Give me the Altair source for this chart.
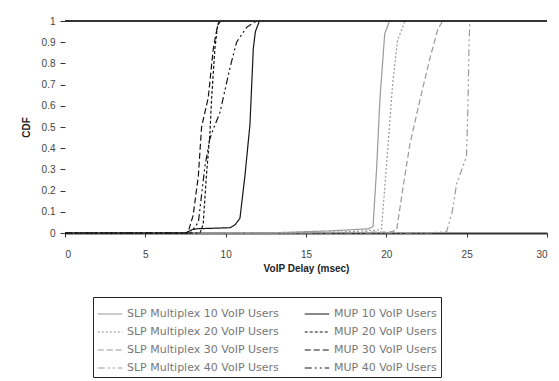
import altair as alt
import pandas as pd

# ---- data ----
# legend fills column by column: SLP series on the left, MUP on the right
series_order = [
    "SLP Multiplex 10 VoIP Users", "SLP Multiplex 20 VoIP Users",
    "SLP Multiplex 30 VoIP Users", "SLP Multiplex 40 VoIP Users",
    "MUP 10 VoIP Users", "MUP 20 VoIP Users",
    "MUP 30 VoIP Users", "MUP 40 VoIP Users",
]

slp10_x = [0, 12.5, 16.5, 18.9, 19.17, 19.4, 19.6, 19.9, 20.2, 30]
slp10_y = [0, 0, 0.01, 0.02, 0.03, 0.31, 0.63, 0.94, 1, 1]

slp20_x = [0, 13.0, 17.5, 19.6, 19.7, 20.0, 20.4, 20.7, 21.16, 30]
slp20_y = [0, 0, 0.005, 0.015, 0.02, 0.31, 0.71, 0.91, 1, 1]

slp30_x = [0, 14.0, 20.3, 20.64, 21.05, 21.47, 22.1, 22.7, 23.2, 23.5, 30]
slp30_y = [0, 0, 0.005, 0.014, 0.22, 0.42, 0.63, 0.82, 0.96, 1, 1]

slp40_x = [0, 22.5, 23.75, 24.1, 24.37, 24.99, 25.08, 25.15, 25.2, 30]
slp40_y = [0, 0, 0.006, 0.1, 0.23, 0.36, 0.6, 0.9, 1, 1]

mup10_x = [0, 7.5, 7.9, 8.2, 10.3, 10.6, 10.89, 11.2, 11.51, 11.72, 11.85, 12.1, 30]
mup10_y = [0, 0, 0.015, 0.02, 0.025, 0.04, 0.07, 0.27, 0.51, 0.87, 0.95, 1, 1]

mup20_x = [0, 8.4, 8.6, 8.8, 9.02, 9.13, 9.33, 9.5, 9.6, 30]
mup20_y = [0, 0, 0.04, 0.27, 0.47, 0.64, 0.87, 0.98, 1, 1]

mup30_x = [0, 7.6, 7.67, 7.98, 8.3, 8.5, 8.92, 9.23, 9.5, 9.7, 30]
mup30_y = [0, 0, 0.005, 0.085, 0.27, 0.5, 0.64, 0.87, 0.98, 1, 1]

mup40_x = [0, 7.8, 8.3, 8.7, 9.0, 9.23, 9.65, 10.27, 10.68, 11.3, 11.8, 12.1, 30]
mup40_y = [0, 0, 0.05, 0.31, 0.44, 0.49, 0.57, 0.78, 0.9, 0.97, 0.995, 1, 1]

series_data = {
    "SLP Multiplex 10 VoIP Users": (slp10_x, slp10_y),
    "SLP Multiplex 20 VoIP Users": (slp20_x, slp20_y),
    "SLP Multiplex 30 VoIP Users": (slp30_x, slp30_y),
    "SLP Multiplex 40 VoIP Users": (slp40_x, slp40_y),
    "MUP 10 VoIP Users": (mup10_x, mup10_y),
    "MUP 20 VoIP Users": (mup20_x, mup20_y),
    "MUP 30 VoIP Users": (mup30_x, mup30_y),
    "MUP 40 VoIP Users": (mup40_x, mup40_y),
}

x_ticks = [0, 5, 10, 15, 20, 25, 30]
y_ticks = [0, 0.1, 0.2, 0.3, 0.4, 0.5, 0.6, 0.7, 0.8, 0.9, 1]
top_level = [1]

# ---- style ----
GRAY = "#9a9a9a"
BLACK = "#151515"
color_range = [GRAY, GRAY, GRAY, GRAY, BLACK, BLACK, BLACK, BLACK]
dash_range = [[1, 0], [2, 2], [6, 3], [7, 3, 2, 3, 2, 3],
              [1, 0], [3, 2], [6, 3], [7, 3, 2, 3, 2, 3]]

rows = []
for name, (xs, ys) in series_data.items():
    for i, (xv, yv) in enumerate(zip(xs, ys)):
        rows.append({"series": name, "delay": xv, "cdf": yv, "idx": i})
df = pd.DataFrame(rows)
top_df = pd.DataFrame({"cdf": top_level})

FONT = "Liberation Sans"

x_scale = alt.Scale(domain=[0, 30], nice=False)
y_scale = alt.Scale(domain=[0, 1], nice=False)
y_axis = alt.Axis(values=y_ticks, title="CDF", format=".1~f",
                  domain=False, tickColor="#333", tickSize=5,
                  labelPadding=5, titlePadding=10, labelOverlap=False,
                  grid=False)

legend = alt.Legend(
    title=None,
    orient="none",
    legendX=28,
    legendY=276,
    columns=2,
    columnPadding=23,
    rowPadding=0,
    padding=4,
    gridAlign="all",
    strokeColor="#222",
    symbolType="stroke",
    symbolSize=600,
    symbolStrokeWidth=1.2,
    labelFont="DejaVu Sans",
    labelFontSize=11,
    labelColor="#777",
    labelLimit=300,
    labelOffset=4,
)

lines = alt.Chart(df).mark_line(strokeWidth=1.2).encode(
    x=alt.X("delay:Q", scale=x_scale,
            axis=alt.Axis(values=x_ticks, title="VoIP Delay (msec)", format="d",
                          domainColor="#333", domainWidth=2, tickColor="#333",
                          tickSize=4, labelPadding=12, titlePadding=4,
                          labelOverlap=False, grid=False)),
    y=alt.Y("cdf:Q", scale=y_scale, axis=y_axis),
    color=alt.Color("series:N", scale=alt.Scale(domain=series_order, range=color_range),
                    legend=legend),
    strokeDash=alt.StrokeDash("series:N", scale=alt.Scale(domain=series_order, range=dash_range),
                              legend=legend),
    order=alt.Order("idx:Q"),
)

top_rule = alt.Chart(top_df).mark_rule(color="#333", strokeWidth=2).encode(
    y=alt.Y("cdf:Q", scale=y_scale, axis=y_axis)
)

chart = alt.layer(lines, top_rule).properties(
    width=482,
    height=212,
    autosize=alt.AutoSizeParams(type="none"),
    padding={"left": 65, "top": 21, "right": 12, "bottom": 148},
).configure_view(stroke=None).configure_axis(
    labelFont=FONT, labelFontSize=10, labelColor="#444",
    titleFont=FONT, titleFontSize=10, titleFontWeight="bold", titleColor="#222",
)

chart.save("out.html", embed_options={"renderer": "svg", "actions": False})
